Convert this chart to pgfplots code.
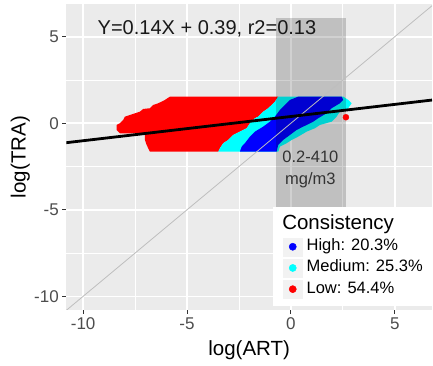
\documentclass[border=0pt]{standalone}
\usepackage{pgfplots}
\pgfplotsset{compat=1.18}
\usepackage{fontspec}
\setmainfont{Liberation Sans}
\definecolor{bggray}{HTML}{EBEBEB}
\definecolor{tickgray}{HTML}{333333}
\definecolor{labgray}{HTML}{4D4D4D}
\definecolor{keygray}{HTML}{F2F2F2}
\definecolor{diaggray}{HTML}{BEBEBE}
\definecolor{ptblue}{HTML}{0000FF}
\definecolor{ptcyan}{HTML}{00FFFF}
\definecolor{ptred}{HTML}{FF0000}
\begin{document}
\begin{tikzpicture}
\useasboundingbox (-66.3pt,-56pt) rectangle (366.7pt,310pt);
\begin{axis}[
  at={(0pt,0pt)}, anchor=south west,
  width=365.7pt, height=306pt, scale only axis,
  xmin=-10.81, xmax=6.79, ymin=-10.79, ymax=6.89,
  axis background/.style={fill=bggray},
  axis line style={draw=none},
  xtick={-10,-5,0,5}, ytick={-10,-5,0,5},
  minor xtick={-7.5,-2.5,2.5}, minor ytick={-7.5,-2.5,2.5},
  grid=both,
  major grid style={white, line width=1.6pt},
  minor grid style={white, line width=0.8pt},
  tick align=outside, major tick length=4pt, minor tick length=0pt,
  tick style={draw=tickgray, line width=1pt},
  xtick pos=left, ytick pos=left,
  /pgf/number format/assume math mode=true,
  tick label style={font=\fontsize{17}{17}\selectfont, text=labgray},
  xlabel={log(ART)}, ylabel={log(TRA)},
  label style={font=\fontsize{20.5}{20.5}\selectfont, text=black},
  xlabel style={at={(axis description cs:0.5,-0.1307)}, anchor=center},
  ylabel style={at={(axis description cs:-0.1258,0.5)}, anchor=center, rotate=0},
  legend style={at={(0.5652,0.3366)}, anchor=north west, draw=none, fill=white,
    inner xsep=10pt, inner ysep=7.2pt, row sep=2.8pt, column sep=4.3pt,
    nodes={inner sep=0pt, text depth={}, font=\fontsize{16.5}{16.5}\selectfont, text=black},
    cells={anchor=west}},
]
% Low consistency (red) cloud
\addplot[forget plot, draw=none, fill=ptred] coordinates {
(-5.823,1.537) (-0.611,1.537) (-0.770,1.248) (-1.092,0.867) (-1.333,0.670)
(-1.574,0.381) (-1.732,0.289) (-1.973,0) (-2.132,-0.289) (-2.454,-0.485)
(-2.777,-0.676) (-3.017,-0.965) (-3.258,-1.155) (-3.417,-1.444) (-3.499,-1.641)
(-6.785,-1.641) (-6.867,-1.444) (-6.944,-1.254) (-7.026,-0.965) (-7.026,-0.578)
(-8.229,-0.578) (-8.388,-0.387) (-8.388,-0.098) (-8.229,0) (-8.070,0.191)
(-7.989,0.381) (-7.748,0.479) (-7.267,0.670) (-7.108,0.826) (-6.785,0.867)
(-6.627,1.057) (-6.386,1.155) (-6.064,1.346)} -- cycle;
% Medium consistency (cyan) cloud
\addplot[forget plot, draw=none, fill=ptcyan] coordinates {
(-0.611,1.537) (2.517,1.537) (2.758,1.346) (2.921,1.155) (2.758,0.867)
(2.358,0.670) (2.199,0.381) (1.959,0.092) (1.396,-0.098) (1.155,-0.289)
(0.756,-0.485) (0.351,-0.774) (0.034,-0.965) (-0.207,-1.155) (-0.529,-1.352)
(-0.611,-1.641) (-3.499,-1.641) (-3.417,-1.444) (-3.258,-1.155) (-3.017,-0.965)
(-2.777,-0.676) (-2.454,-0.485) (-2.132,-0.289) (-1.973,0) (-1.732,0.289)
(-1.574,0.381) (-1.333,0.670) (-1.092,0.867) (-0.770,1.248)} -- cycle;
% High consistency (blue) cloud
\addplot[forget plot, draw=none, fill=ptblue] coordinates {
(0.351,1.537) (2.440,1.537) (2.517,1.346) (2.358,1.155) (1.959,0.867)
(1.718,0.578) (1.314,0.289) (1.073,0.092) (0.592,-0.196) (0.274,-0.387)
(-0.048,-0.676) (-0.371,-0.965) (-0.611,-1.254) (-0.688,-1.641) (-2.454,-1.641)
(-2.372,-1.352) (-2.214,-1.155) (-1.973,-0.774) (-1.732,-0.485) (-1.333,-0.196)
(-1.011,0.092) (-0.770,0.381) (-0.529,0.768) (-0.289,1.057) (-0.048,1.346)} -- cycle;
\addplot[forget plot, only marks, mark=*, mark size=3pt, ptred] coordinates {(2.647,0.347)};
% shaded range 0.2-410 mg/m3
\addplot[forget plot, draw=none, fill=black, fill opacity=0.18] coordinates {
(-0.722,-10) (2.632,-10) (2.632,6.08) (-0.722,6.08)} -- cycle;
% 1:1 line
\addplot[forget plot, diaggray, line width=0.8pt] coordinates {(-10.81,-10.81) (6.79,6.79)};
% regression line
\addplot[forget plot, black, line width=2.8pt] coordinates {(-10.81,-1.1234) (6.79,1.3406)};
\node[anchor=base, font=\fontsize{20}{20}\selectfont, text=black!90] at (axis cs:-4.04,5.10) {Y=0.14X + 0.39, r2=0.13};
\node[anchor=base, font=\fontsize{16.5}{16.5}\selectfont, text=black!80] at (axis cs:0.938,-2.253) {0.2-410};
\node[anchor=base, font=\fontsize{16.5}{16.5}\selectfont, text=black!80] at (axis cs:0.938,-3.524) {mg/m3};
\addlegendimage{legend image code/.code={}}
\addlegendentry{\hspace*{-24.3pt}\fontsize{20.5}{20.5}\selectfont\rule[-5.5pt]{0pt}{18.5pt}Consistency}
\addlegendimage{legend image code/.code={\fill[keygray] (0pt,-9pt) rectangle (18.7pt,9pt); \fill[ptblue] (9.35pt,0pt) circle (3.6pt);}}
\addlegendentry{\rule[-4pt]{0pt}{16pt}High: 20.3\%}
\addlegendimage{legend image code/.code={\fill[keygray] (0pt,-9pt) rectangle (18.7pt,9pt); \fill[ptcyan] (9.35pt,0pt) circle (3.6pt);}}
\addlegendentry{\rule[-4pt]{0pt}{16pt}Medium: 25.3\%}
\addlegendimage{legend image code/.code={\fill[keygray] (0pt,-9pt) rectangle (18.7pt,9pt); \fill[ptred] (9.35pt,0pt) circle (3.6pt);}}
\addlegendentry{\rule[-4pt]{0pt}{16pt}Low: 54.4\%}
\end{axis}
\end{tikzpicture}
\end{document}
